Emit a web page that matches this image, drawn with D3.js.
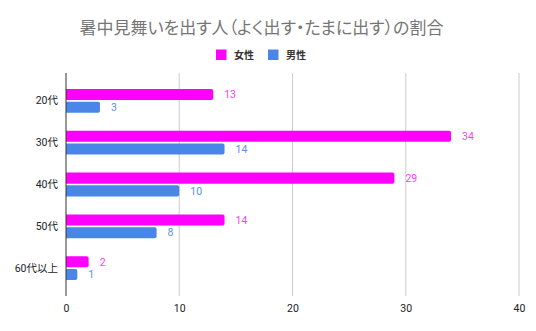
<!DOCTYPE html>
<html>
<head>
<meta charset="utf-8">
<script src="https://cdn.jsdelivr.net/npm/d3@7"></script>
<style>
  html, body { margin: 0; padding: 0; background: #fff; }
  svg { display: block; font-family: "Noto Sans CJK JP", "Noto Sans", Roboto, sans-serif; }
</style>
</head>
<body>
<svg id="chart" width="536" height="331"></svg>
<script>
// Age groups and counts per series
const categories = ["20代", "30代", "40代", "50代", "60代以上"];
const seriesNames = ["女性", "男性"];
const female = [13, 34, 29, 14, 2];
const male = [3, 14, 10, 8, 1];
const xTicks = [0, 10, 20, 30, 40];
const title = "暑中見舞いを出す人（よく出す・たまに出す）の割合";

const colors = { "女性": "#ff00ff", "男性": "#4a86e8" };
const labelColors = { "女性": "#f63ff6", "男性": "#5b8fe6" };

const svg = d3.select("#chart");
const margin = { left: 66, right: 17, top: 73, bottom: 35 };
const W = 536, H = 331;

const x = d3.scaleLinear().domain([0, 40]).range([margin.left, W - margin.right]);
const y = d3.scaleBand().domain(categories)
  .range([margin.top, H - margin.bottom])
  .paddingInner(0.43).paddingOuter(0.38);
const ySub = d3.scaleBand().domain(seriesNames)
  .range([0, y.bandwidth()]).paddingInner(0.13);

// Title (proportional kana/punctuation spacing)
svg.append("text")
  .attr("x", 261.5).attr("y", 34)
  .attr("text-anchor", "middle")
  .attr("font-size", 17)
  .style("font-feature-settings", "'palt' 1")
  .attr("fill", "#757575")
  .text(title);

// Legend
const legend = svg.append("g");
const legendItems = [{ name: "女性", x: 216 }, { name: "男性", x: 268 }];
legendItems.forEach(d => {
  legend.append("rect").attr("x", d.x).attr("y", 49.5)
    .attr("width", 10.5).attr("height", 10.5).attr("fill", colors[d.name]);
  legend.append("text").attr("x", d.x + 18).attr("y", 59)
    .attr("font-size", 10).attr("font-weight", "bold").attr("fill", "#333")
    .text(d.name);
});

// Vertical gridlines
svg.append("g")
  .selectAll("line")
  .data(xTicks.filter(t => t !== 0))
  .join("line")
  .attr("x1", d => x(d)).attr("x2", d => x(d))
  .attr("y1", margin.top).attr("y2", H - margin.bottom)
  .attr("stroke", "#cccccc").attr("stroke-width", 1);

// X axis labels
const xAxis = d3.axisBottom(x).tickValues(xTicks).tickSize(0).tickPadding(0);
const gx = svg.append("g")
  .attr("transform", `translate(0,${H - margin.bottom})`)
  .call(xAxis);
gx.select(".domain").remove();
gx.selectAll("text")
  .attr("dy", null).attr("y", 16)
  .attr("font-size", 10.5).attr("fill", "#222")
  .attr("font-family", "Roboto, 'Noto Sans CJK JP', sans-serif");

// Y axis labels
const yAxis = d3.axisLeft(y).tickSize(0).tickPadding(8);
const gy = svg.append("g")
  .attr("transform", `translate(${margin.left},0)`)
  .call(yAxis);
gy.select(".domain").remove();
gy.selectAll("text")
  .attr("font-size", 10.5).attr("fill", "#222")
  .attr("font-family", "Roboto, 'Noto Sans CJK JP', sans-serif");

// Bars
const rows = [];
categories.forEach((c, i) => {
  rows.push({ cat: c, series: "女性", value: female[i] });
  rows.push({ cat: c, series: "男性", value: male[i] });
});

const barH = ySub.bandwidth();
const r = 2;
function barPath(d) {
  const x0 = x(0), x1 = x(d.value);
  const y0 = y(d.cat) + ySub(d.series), y1 = y0 + barH;
  return `M${x0},${y0}H${x1 - r}Q${x1},${y0} ${x1},${y0 + r}V${y1 - r}Q${x1},${y1} ${x1 - r},${y1}H${x0}Z`;
}

svg.append("g")
  .selectAll("path")
  .data(rows)
  .join("path")
  .attr("d", barPath)
  .attr("fill", d => colors[d.series]);

// Value labels
svg.append("g")
  .selectAll("text")
  .data(rows)
  .join("text")
  .attr("x", d => x(d.value) + 11)
  .attr("y", d => y(d.cat) + ySub(d.series) + barH / 2)
  .attr("dy", "0.36em")
  .attr("font-size", 10.5)
  .attr("font-family", "Roboto, 'Noto Sans CJK JP', sans-serif")
  .attr("fill", d => labelColors[d.series])
  .text(d => d.value);

// Baseline at zero
svg.append("line")
  .attr("x1", x(0)).attr("x2", x(0))
  .attr("y1", margin.top).attr("y2", H - margin.bottom)
  .attr("stroke", "#333").attr("stroke-width", 1);
</script>
</body>
</html>
